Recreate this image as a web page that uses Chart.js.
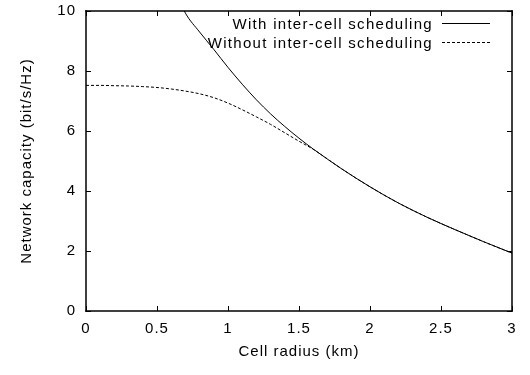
<!DOCTYPE html>
<html>
<head>
<meta charset="utf-8">
<title>Network capacity vs cell radius</title>
<script src="https://cdn.jsdelivr.net/npm/chart.js@4.4.0/dist/chart.umd.min.js"></script>
<style>
    html, body { margin: 0; padding: 0; background: #fff; }
</style>
</head>
<body>
<canvas id="capacityChart" width="530" height="375"></canvas>
<script>
// values
const radiusWith = [0.65, 0.7, 0.8, 0.9, 1.0, 1.1, 1.2, 1.3, 1.4, 1.5, 1.6, 1.8, 2.0, 2.2, 2.4, 2.6, 2.8, 3.0];
const capacityWith = [10.45, 9.93, 9.30, 8.72, 8.12, 7.56, 7.04, 6.57, 6.15, 5.76, 5.40, 4.74, 4.14, 3.60, 3.13, 2.71, 2.31, 1.93];

const radiusWithout = [0, 0.1, 0.2, 0.3, 0.4, 0.5, 0.6, 0.7, 0.8, 0.9, 1.0, 1.1, 1.2, 1.3, 1.4, 1.5, 1.6, 1.8, 2.0, 2.2, 2.4, 2.6, 2.8, 3.0];
const capacityWithout = [7.52, 7.52, 7.51, 7.50, 7.48, 7.45, 7.40, 7.33, 7.24, 7.11, 6.93, 6.71, 6.47, 6.22, 5.94, 5.66, 5.39, 4.74, 4.14, 3.60, 3.13, 2.71, 2.31, 1.93];

const seriesLabels = ['With inter-cell scheduling', 'Without inter-cell scheduling'];
const xTicks = [0, 0.5, 1, 1.5, 2, 2.5, 3];
const yTicks = [0, 2, 4, 6, 8, 10];

const FONT = { family: '"Liberation Sans", Arial, sans-serif', size: 15 };

function toPoints(xs, ys) {
    return xs.map((x, i) => ({ x: x, y: ys[i] }));
}

// gnuplot style frame: box with inward ticks on all four sides, plus key at top right
const gnuplotFrame = {
    id: 'gnuplotFrame',
    beforeDraw(chart) {
        chart.ctx.letterSpacing = '1px';
    },
    afterDraw(chart) {
        const { ctx, chartArea: a, scales: { x, y } } = chart;
        const tick = 5;
        const L = Math.round(a.left), R = Math.round(a.right);
        const T = Math.round(a.top), B = Math.round(a.bottom);
        ctx.save();
        ctx.fillStyle = '#000';
        // box
        ctx.fillRect(L - 0.75, T - 0.75, R - L + 1.5, 1.5);
        ctx.fillRect(L - 0.75, B - 0.75, R - L + 1.5, 1.5);
        ctx.fillRect(L - 0.75, T - 0.75, 1.5, B - T + 1.5);
        ctx.fillRect(R - 0.75, T - 0.75, 1.5, B - T + 1.5);
        // inward ticks, mirrored
        xTicks.forEach(v => {
            const px = Math.round(x.getPixelForValue(v));
            ctx.fillRect(px, B - tick, 1, tick);
            ctx.fillRect(px, T, 1, tick);
        });
        yTicks.forEach(v => {
            const py = Math.round(y.getPixelForValue(v));
            ctx.fillRect(L, py, tick, 1);
            ctx.fillRect(R - tick, py, tick, 1);
        });

        // key
        ctx.font = FONT.size + 'px ' + FONT.family;
        ctx.letterSpacing = '1.3px';
        ctx.textAlign = 'right';
        ctx.textBaseline = 'alphabetic';
        ctx.strokeStyle = '#000';
        const rows = [29, 48];
        chart.data.datasets.forEach((ds, i) => {
            ctx.fillText(ds.label, 433, rows[i]);
            ctx.lineWidth = 1;
            ctx.setLineDash(ds.borderDash || []);
            ctx.beginPath();
            ctx.moveTo(442, rows[i] - 5.5);
            ctx.lineTo(490, rows[i] - 5.5);
            ctx.stroke();
        });
        ctx.restore();
    }
};

const ctx = document.getElementById('capacityChart').getContext('2d');

new Chart(ctx, {
    type: 'line',
    data: {
        datasets: [{
            label: seriesLabels[0],
            data: toPoints(radiusWith, capacityWith),
            borderColor: '#000',
            borderWidth: 1,
            pointRadius: 0,
            cubicInterpolationMode: 'monotone',
            fill: false
        }, {
            label: seriesLabels[1],
            data: toPoints(radiusWithout, capacityWithout),
            borderColor: '#000',
            borderWidth: 1,
            borderDash: [3, 2],
            pointRadius: 0,
            cubicInterpolationMode: 'monotone',
            fill: false
        }]
    },
    options: {
        responsive: false,
        animation: false,
        devicePixelRatio: 1,
        layout: {
            padding: { top: 11, right: 18, left: 0, bottom: 0 }
        },
        plugins: {
            legend: { display: false },
            tooltip: { enabled: false }
        },
        scales: {
            x: {
                type: 'linear',
                min: 0,
                max: 3,
                afterBuildTicks: scale => { scale.ticks = xTicks.map(v => ({ value: v })); },
                afterFit: scale => {
                    scale.height = 64;
                    scale.paddingLeft = 0;
                    scale.paddingRight = 0;
                },
                grid: { display: false, drawTicks: false },
                border: { display: false },
                ticks: {
                    font: FONT,
                    color: '#000',
                    padding: 9,
                    maxRotation: 0,
                    autoSkip: false,
                    callback: v => String(v)
                },
                title: {
                    display: true,
                    text: 'Cell radius (km)',
                    font: FONT,
                    color: '#000',
                    padding: { top: 0, bottom: 14 }
                }
            },
            y: {
                type: 'linear',
                min: 0,
                max: 10,
                afterBuildTicks: scale => { scale.ticks = yTicks.map(v => ({ value: v })); },
                afterFit: scale => {
                    scale.width = 86;
                    scale.paddingTop = 0;
                    scale.paddingBottom = 0;
                },
                grid: { display: false, drawTicks: false },
                border: { display: false },
                ticks: {
                    font: FONT,
                    color: '#000',
                    padding: 10,
                    callback: v => String(v)
                },
                title: {
                    display: true,
                    text: 'Network capacity (bit/s/Hz)',
                    font: FONT,
                    color: '#000',
                    padding: { top: 18, bottom: 0 }
                }
            }
        }
    },
    plugins: [gnuplotFrame]
});
</script>
</body>
</html>
